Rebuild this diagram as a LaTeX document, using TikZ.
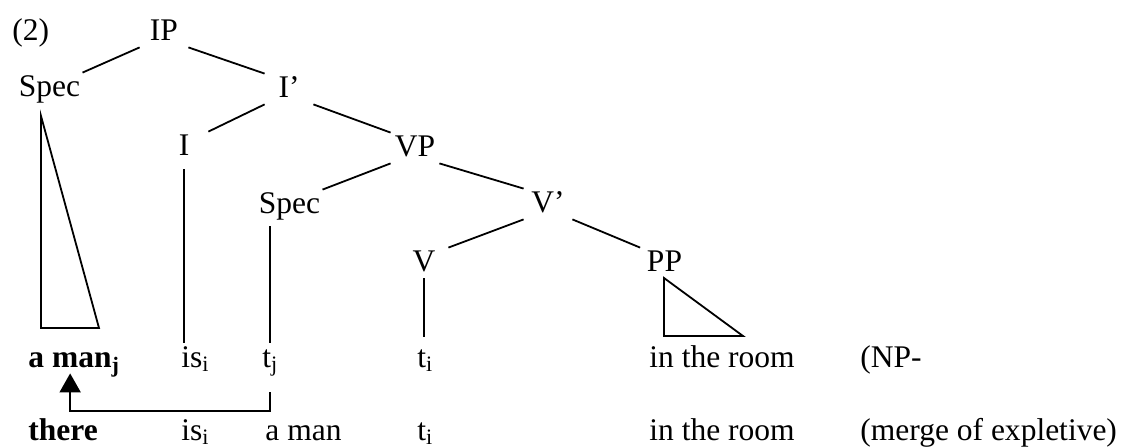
\documentclass[tikz,border=0pt]{standalone}
\usepackage{fontspec}
\setmainfont{Liberation Serif}
\usetikzlibrary{arrows.meta}

\begin{document}
\begin{tikzpicture}[x=.5pt,y=-.5pt,
  every node/.style={font=\fontsize{15.75}{19}\selectfont},
  cat/.style={anchor=base,text height=11pt,text depth=2pt,inner sep=1pt,minimum width=24pt},
  word/.style={anchor=base west,text height=11pt,text depth=2pt,inner sep=1pt},
  branch/.style={line width=.9pt},
  roof/.style={line width=.9pt,line join=miter},
  move/.style={line width=.9pt,-{Triangle[length=9.5pt,width=10.5pt]}}]
\useasboundingbox (0,0) rectangle (1123,448);
\node[word] (ex) at (10,41) {(2)};
\node[cat] (IP) at (164,41) {IP};
\node[cat] (Spec) at (49.5,97) {Spec};
\node[cat] (Ibar) at (289,98) {I’};
\node[cat] (I) at (184,156) {I};
\node[cat] (VP) at (415,157) {VP};
\node[cat] (Spec2) at (289.5,214) {Spec};
\node[cat] (Vbar) at (548,213) {V’};
\node[cat] (V) at (424,272) {V};
\node[cat] (PP) at (664.5,272) {PP};
\node[word] (aman) at (26,367) {\textbf{a man\textsubscript{j}}};
\node[word] (is1) at (179,367) {is\textsubscript{i}};
\node[word] (tj) at (260,367) {t\textsubscript{j}};
\node[word] (ti1) at (415,367) {t\textsubscript{i}};
\node[word] (room1) at (647,367) {in the room};
\node[word] (np) at (858,367) {(NP-};
\node[word] (there) at (26,440) {\textbf{there}};
\node[word] (is2) at (179,440) {is\textsubscript{i}};
\node[word] (aman2) at (263,440) {a man};
\node[word] (ti2) at (415,440) {t\textsubscript{i}};
\node[word] (room2) at (647,440) {in the room};
\node[word] (merge) at (858,440) {(merge of expletive)};
\draw[branch] (IP.south west) -- (Spec.north east);
\draw[branch] (IP.south east) -- (Ibar.north west);
\draw[branch] (Ibar.south west) -- (I.north east);
\draw[branch] (Ibar.south east) -- (VP.north west);
\draw[branch] (VP.south west) -- (Spec2.north east);
\draw[branch] (VP.south east) -- (Vbar.north west);
\draw[branch] (Vbar.south west) -- (V.north east);
\draw[branch] (Vbar.south east) -- (PP.north west);
\draw[branch,shorten <=3.5pt] (I.south) -- (I.south |- is1.north);
\draw[branch,shorten <=3pt] (tj.north |- Spec2.south) -- (tj.north);
\draw[branch,shorten >=3pt] (V.south) -- (V.south |- ti1.north);
\draw[roof] (41,116) -- (41,328) -- (99,328) -- cycle;
\draw[roof] (664,278) -- (664,336) -- (743,336) -- cycle;
\coordinate (turn) at (0,411);
\draw[move,shorten <=9.5pt] (tj.south) -- (tj.south |- turn) -| ([xshift=-2pt]aman.south);
\end{tikzpicture}
\end{document}
